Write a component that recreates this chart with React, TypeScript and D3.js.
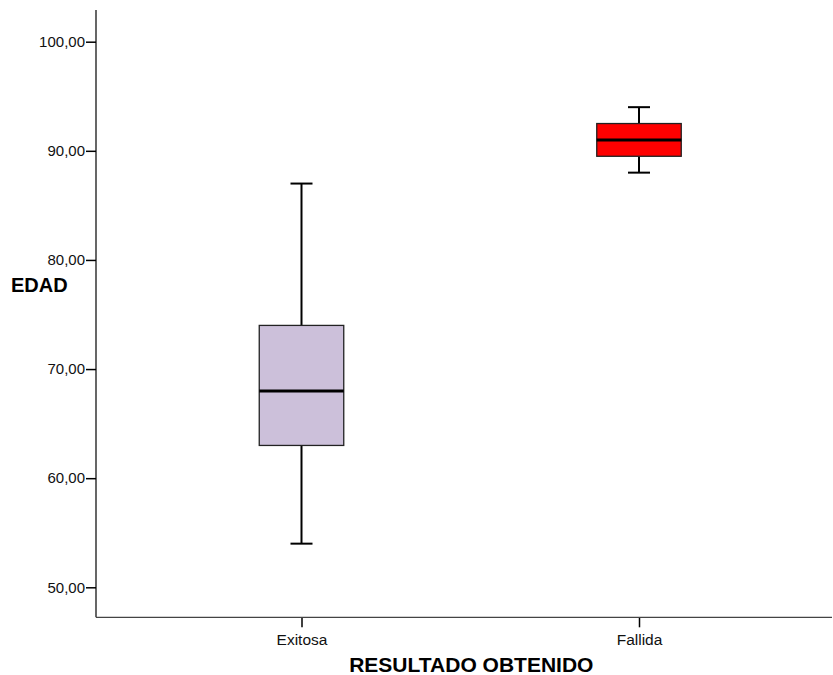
import React, { useEffect, useRef } from "react";
import * as d3 from "d3";

// box plot stats
const categories = ["Exitosa", "Fallida"];
const whiskerLow = [54, 88];
const q1 = [63, 89.5];
const median = [68, 91];
const q3 = [74, 92.5];
const whiskerHigh = [87, 94];
const boxColors = ["#ccc0da", "#ff0000"];
const yTicks = [50, 60, 70, 80, 90, 100];

const W = 833, H = 675;

export default function App() {
  const ref = useRef<SVGSVGElement>(null);

  useEffect(() => {
    const svg = d3.select(ref.current);
    svg.selectAll("*").remove();

    const left = 96, right = 832, top = 10, bottom = 617.3;

    const y = d3.scaleLinear().domain([50, 100]).range([587.3, 41.7]);
    const x = d3.scalePoint<string>().domain(categories).range([301.5, 639]);

    const g = svg.append("g");

    // y axis
    const yAxis = g.append("g")
      .attr("transform", `translate(${left},0)`)
      .call(d3.axisLeft(y).tickValues(yTicks).tickSize(10).tickPadding(1)
        .tickFormat((d) => d3.format(".2f")(d as number).replace(".", ",")));
    yAxis.select(".domain").remove();
    yAxis.selectAll("line").attr("stroke", "#000").attr("stroke-width", 1.5);
    yAxis.selectAll("text").attr("font-family", "Liberation Sans, Arial, sans-serif")
      .attr("font-size", 15).attr("fill", "#111");

    g.append("line").attr("x1", left).attr("x2", left).attr("y1", top).attr("y2", bottom)
      .attr("stroke", "#000").attr("stroke-width", 1.2);

    // x axis
    const xAxis = g.append("g")
      .attr("transform", `translate(0,${bottom})`)
      .call(d3.axisBottom(x).tickSize(10).tickPadding(7));
    xAxis.select(".domain").remove();
    xAxis.selectAll("line").attr("stroke", "#000").attr("stroke-width", 1.5);
    xAxis.selectAll("text").attr("font-family", "Liberation Sans, Arial, sans-serif")
      .attr("font-size", 15.5).attr("fill", "#111");

    g.append("line").attr("x1", left).attr("x2", right).attr("y1", bottom).attr("y2", bottom)
      .attr("stroke", "#444").attr("stroke-width", 1.2);

    // boxes
    const boxW = 84.5, capW = 22;
    categories.forEach((c, i) => {
      const cx = x(c)!;
      const bg = g.append("g");
      // whisker stems
      bg.append("line").attr("x1", cx).attr("x2", cx)
        .attr("y1", y(whiskerHigh[i])).attr("y2", y(q3[i]))
        .attr("stroke", "#000").attr("stroke-width", 2);
      bg.append("line").attr("x1", cx).attr("x2", cx)
        .attr("y1", y(q1[i])).attr("y2", y(whiskerLow[i]))
        .attr("stroke", "#000").attr("stroke-width", 2);
      // caps
      [whiskerHigh[i], whiskerLow[i]].forEach((v) => {
        bg.append("line").attr("x1", cx - capW / 2).attr("x2", cx + capW / 2)
          .attr("y1", y(v)).attr("y2", y(v))
          .attr("stroke", "#000").attr("stroke-width", 2);
      });
      // box
      bg.append("rect")
        .attr("x", cx - boxW / 2).attr("width", boxW)
        .attr("y", y(q3[i])).attr("height", y(q1[i]) - y(q3[i]))
        .attr("fill", boxColors[i]).attr("stroke", "#222").attr("stroke-width", 1.3);
      // median
      bg.append("line").attr("x1", cx - boxW / 2).attr("x2", cx + boxW / 2)
        .attr("y1", y(median[i])).attr("y2", y(median[i]))
        .attr("stroke", "#000").attr("stroke-width", 3);
    });

    // axis titles
    g.append("text").attr("x", 11).attr("y", 292)
      .attr("font-family", "Liberation Sans, Arial, sans-serif")
      .attr("font-weight", "bold").attr("font-size", 20).attr("fill", "#000")
      .text("EDAD");

    g.append("text").attr("x", 471.3).attr("y", 671.5).attr("text-anchor", "middle")
      .attr("font-family", "Liberation Sans, Arial, sans-serif")
      .attr("font-weight", "bold").attr("font-size", 21).attr("fill", "#000")
      .text("RESULTADO OBTENIDO");
  }, []);

  return (
    <svg ref={ref} width={W} height={H}
      style={{ position: "absolute", left: 0, top: 0, background: "#fff" }} />
  );
}
